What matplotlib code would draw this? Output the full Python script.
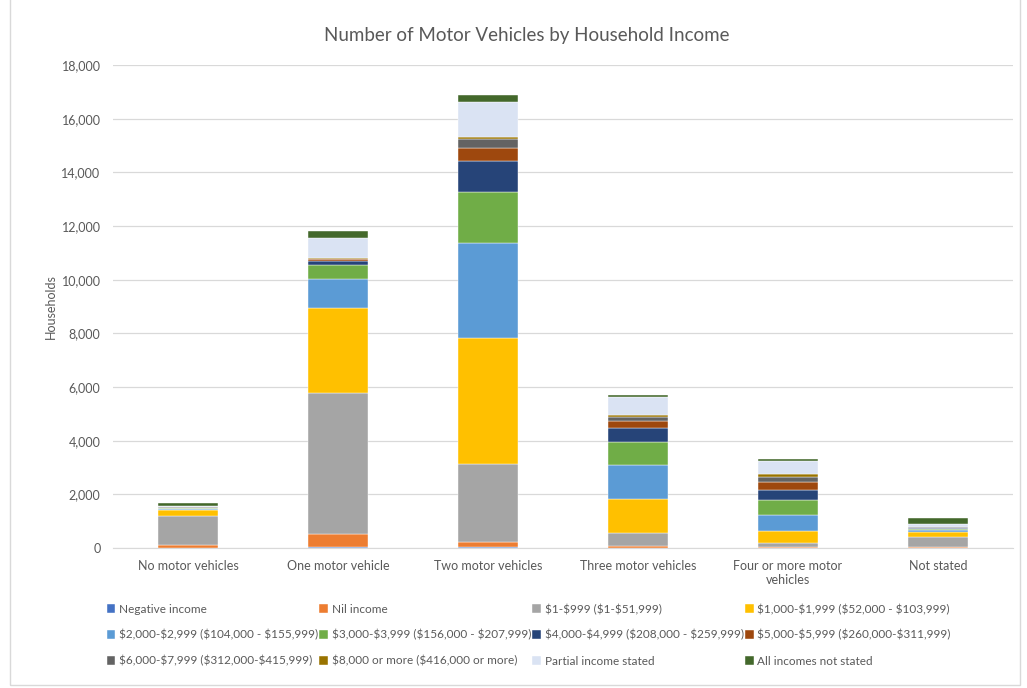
import matplotlib
matplotlib.use("Agg")
import matplotlib.pyplot as plt
from matplotlib.patches import Rectangle
import numpy as np

plt.rcParams['font.family'] = ['Lato', 'DejaVu Sans']
plt.rcParams['text.parse_math'] = False

categories = ["No motor vehicles", "One motor vehicle", "Two motor vehicles",
              "Three motor vehicles", "Four or more motor\nvehicles", "Not stated"]

series_names = [
    "Negative income",
    "Nil income",
    "$1-$999 ($1-$51,999)",
    "$1,000-$1,999 ($52,000 - $103,999)",
    "$2,000-$2,999 ($104,000 - $155,999)",
    "$3,000-$3,999 ($156,000 - $207,999)",
    "$4,000-$4,999 ($208,000 - $259,999)",
    "$5,000-$5,999 ($260,000-$311,999)",
    "$6,000-$7,999 ($312,000-$415,999)",
    "$8,000 or more ($416,000 or more)",
    "Partial income stated",
    "All incomes not stated",
]

negative_income = [10, 50, 20, 15, 5, 0]
nil_income = [110, 470, 220, 45, 20, 40]
inc_1_999 = [1090, 5246, 2891, 488, 161, 381]
inc_1000_1999 = [190, 3168, 4685, 1267, 448, 175]
inc_2000_2999 = [60, 1092, 3541, 1267, 584, 75]
inc_3000_3999 = [30, 522, 1923, 858, 571, 50]
inc_4000_4999 = [10, 150, 1155, 544, 372, 15]
inc_5000_5999 = [5, 70, 485, 249, 286, 15]
inc_6000_7999 = [5, 20, 340, 161, 211, 20]
inc_8000_more = [5, 10, 47, 63, 112, 10]
partial_stated = [60, 745, 1328, 683, 484, 112]
not_stated = [100, 272, 249, 74, 63, 224]

series_values = [negative_income, nil_income, inc_1_999, inc_1000_1999,
                 inc_2000_2999, inc_3000_3999, inc_4000_4999, inc_5000_5999,
                 inc_6000_7999, inc_8000_more, partial_stated, not_stated]

colors = ["#4472C4", "#ED7D31", "#A5A5A5", "#FFC000", "#5B9BD5", "#70AD47",
          "#264478", "#9E480E", "#636363", "#997300", "#DAE3F3", "#43682B"]

text_color = "#595959"
grid_color = "#D9D9D9"

W, H = 1027, 688
fig = plt.figure(figsize=(W / 100, H / 100), dpi=100)

# plot area in pixel coordinates
left, right, top, bottom = 113, 1013, 65, 548
ax = fig.add_axes([left / W, 1 - bottom / H, (right - left) / W, (bottom - top) / H])

x = np.arange(len(categories))
base = np.zeros(len(categories))
handles = []
for name, vals, col in zip(series_names, series_values, colors):
    vals = np.array(vals, dtype=float)
    b = ax.bar(x, vals, width=0.4, bottom=base, color=col, label=name,
               edgecolor="white", linewidth=0.3, zorder=3)
    handles.append(b)
    base += vals

ax.set_xlim(-0.5, len(categories) - 0.5)
ax.set_ylim(0, 18000)
ax.set_yticks(np.arange(0, 18001, 2000))
ax.yaxis.set_major_formatter(matplotlib.ticker.FuncFormatter(lambda v, p: f"{int(v):,}"))
ax.set_xticks(x)
ax.set_xticklabels(categories)
ax.grid(axis="y", color=grid_color, linewidth=0.9, zorder=0)
for s in ["top", "right", "left"]:
    ax.spines[s].set_visible(False)
ax.spines["bottom"].set_color(grid_color)
ax.tick_params(axis="both", length=0, labelsize=9, colors=text_color)
ax.tick_params(axis="y", pad=9)
ax.tick_params(axis="x", pad=9)
ax.set_ylabel("Households", fontsize=9, color=text_color, labelpad=3)

fig.text(527 / W, 1 - 35 / H, "Number of Motor Vehicles by Household Income",
         ha="center", va="center", fontsize=13.5, color=text_color)

# legend filled row by row (matplotlib fills columns first)
ncol, nrow = 4, 3
order = [r * ncol + c for c in range(ncol) for r in range(nrow)]
leg = fig.legend(handles=[handles[i] for i in order],
                 labels=[series_names[i] for i in order], ncol=ncol,
                 loc="upper left", bbox_to_anchor=(96 / W, 1 - 593 / H),
                 frameon=False, fontsize=8.5, labelcolor=text_color,
                 handlelength=0.75, handleheight=0.75, handletextpad=0.3,
                 columnspacing=0.1, labelspacing=1.25)

fig.patches.append(Rectangle((10 / W, 3 / H), 1010 / W, 700 / H, transform=fig.transFigure,
                             fill=False, edgecolor="#D9D9D9", linewidth=1))

fig.savefig("out.png", dpi=100)
